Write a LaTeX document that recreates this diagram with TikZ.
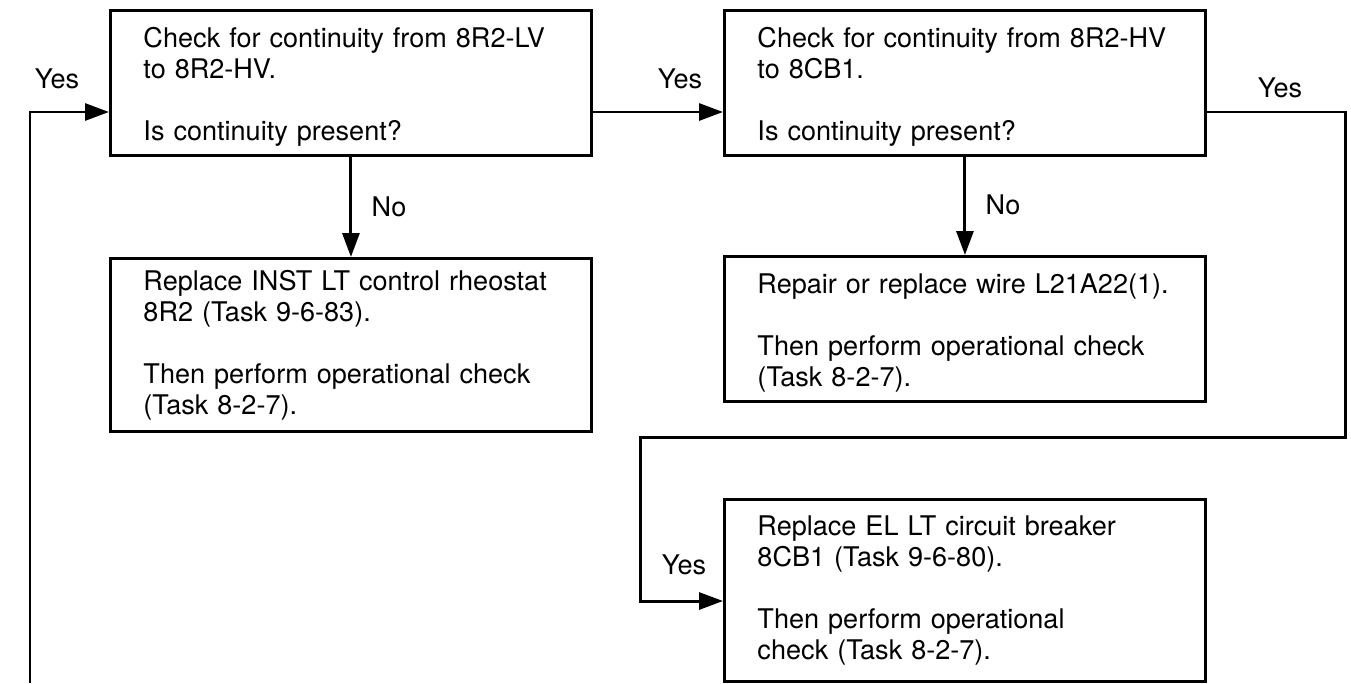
\documentclass[tikz,border=0pt]{standalone}
\usepackage{fontspec}
\setmainfont{TeX Gyre Heros}
\usetikzlibrary{arrows.meta,positioning}
\newcommand{\padtop}{\rule{0pt}{.56cm}}

\begin{document}
\begin{tikzpicture}[x=.02cm,y=-.02cm,font=\fontsize{15.4}{17.6}\selectfont,
    stepbox/.style={draw,line width=1.7pt,anchor=north west,align=left,
      text width=8.3cm,inner xsep=.66cm,inner ysep=0pt},
    flow/.style={line width=1.7pt,-{Triangle[length=.48cm,width=.34cm]}},
    lbl/.style={inner sep=0pt}]
  \useasboundingbox (0,0) rectangle (1351,683);
  % decision boxes
  \node[stepbox,minimum height=2.9cm] (chkLV) at (109,9)
    {\padtop Check for continuity from 8R2-LV\\to 8R2-HV.\\[17.6pt]Is continuity present?};
  \node[stepbox,minimum height=2.9cm] (chkHV) at (723,9)
    {\padtop Check for continuity from 8R2-HV\\to 8CB1.\\[17.6pt]Is continuity present?};
  % repair boxes
  \node[stepbox,minimum height=3.46cm] (rplRheo) at (109,257)
    {Replace INST LT control rheostat\\8R2 (Task 9-6-83).\\[17.6pt]Then perform operational check\\(Task 8-2-7).};
  \node[stepbox,minimum height=2.9cm] (rplWire) at (723,255)
    {\padtop Repair or replace wire L21A22(1).\\[17.6pt]Then perform operational check\\(Task 8-2-7).};
  \node[stepbox,minimum height=3.64cm] (rplCB) at (723,498)
    {Replace EL LT circuit breaker\\8CB1 (Task 9-6-80).\\[17.6pt]Then perform operational\\check (Task 8-2-7).};
  % bends of the connectors
  \coordinate (yesrow) at (0,112);
  \coordinate (leftEnd) at (30,683);
  \coordinate (loopR) at (1345,437);
  \coordinate (loopL) at (640,437);
  \coordinate (cbrow) at (0,601);
  \draw[flow] (leftEnd) |- (chkLV.west |- yesrow);
  \draw[flow] (chkLV.east |- yesrow) -- (chkHV.west |- yesrow);
  \draw[flow] (chkHV.east |- yesrow) -| (loopR) -- (loopL) |- (rplCB.west |- cbrow);
  \draw[flow] (chkLV.south) -- (rplRheo.north);
  \draw[flow] (chkHV.south) -- (rplWire.north);
  % answers
  \node[lbl] (yesIn) at (57,79) {Yes};
  \node[lbl] (yesHV) at (680,79) {Yes};
  \node[lbl] (yesCB) at (1280,88) {Yes};
  \node[lbl] (yesLoop) at (684,565) {Yes};
  \node[lbl] (noLV) at (389,207) {No};
  \node[lbl] (noHV) at (1003,205) {No};
\end{tikzpicture}
\end{document}
